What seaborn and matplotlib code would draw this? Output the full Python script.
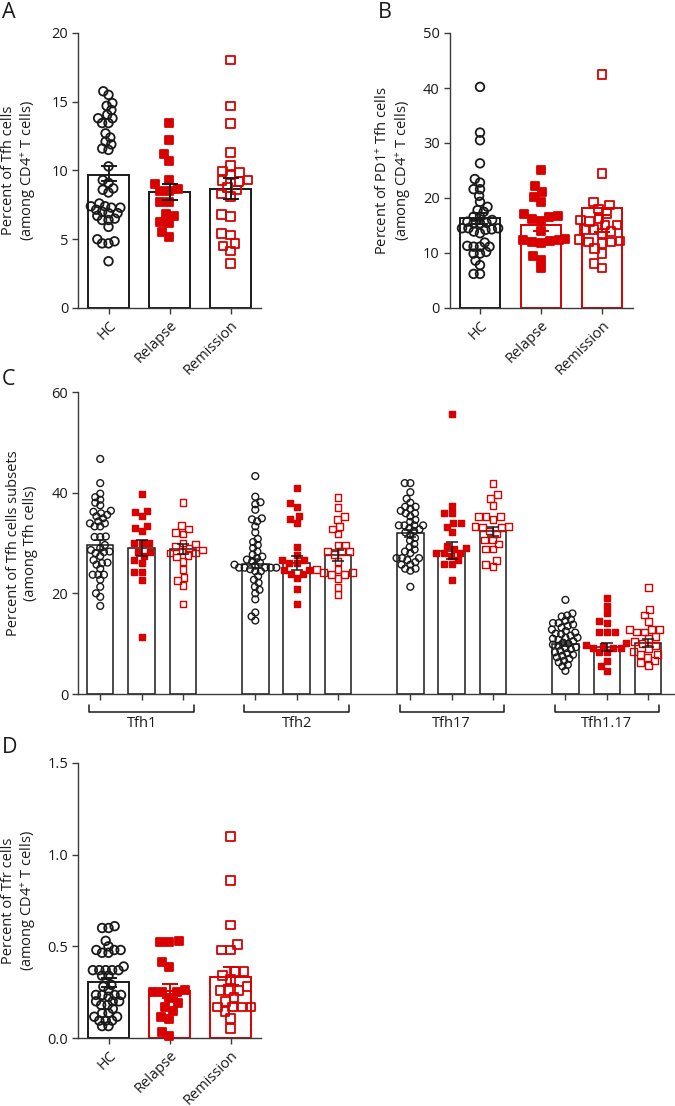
import numpy as np
import pandas as pd
import matplotlib
matplotlib.use("Agg")
import matplotlib.pyplot as plt
import matplotlib.transforms as mtransforms
import seaborn as sns

groups = ["HC", "Relapse", "Remission"]
subsets = ["Tfh1", "Tfh2", "Tfh17", "Tfh1.17"]

RED = "#d90000"
BLACK = "#1a1a1a"
AXIS = "#3a3a3a"

# ---- panel A: Tfh % of CD4+
a_hc = [15.76, 15.5, 14.9, 14.7, 14.4, 14.06, 13.8, 13.8, 13.45, 13.45, 12.7, 12.4, 12.1,
        11.9, 11.6, 11.5, 10.3, 9.3, 9.1, 8.7, 8.6, 8.4, 7.6, 7.4, 7.4, 7.3, 7.3, 7.15, 7.0,
        6.9, 6.9, 6.7, 6.5, 6.4, 6.4, 5.9, 5.0, 4.85, 4.7, 4.7, 3.4]
a_rel = [13.43, 12.2, 11.2, 10.69, 9.31, 9.02, 8.65, 8.53, 8.53, 7.73, 7.73, 6.84, 6.69,
         6.25, 6.16, 5.5, 5.19]
a_rem = [18.04, 14.7, 13.43, 11.32, 10.35, 9.96, 9.84, 9.67, 9.31, 9.26, 9.19, 8.78, 8.58,
         8.29, 8.1, 6.81, 6.64, 5.43, 5.31, 4.7, 4.51, 4.15, 3.25]
a_bar = [9.7, 8.45, 8.65]
a_mean = [9.75, 8.45, 8.7]
a_sem = [0.55, 0.58, 0.75]

# ---- panel B: PD1+ Tfh % of CD4+
b_hc = [40.2, 31.9, 30.5, 26.3, 23.45, 22.8, 21.6, 21.6, 20.4, 19.3, 18.4, 17.8, 17.5, 16.6,
        16.6, 16.0, 15.7, 15.5, 15.4, 15.4, 14.5, 14.5, 14.5, 14.3, 14.2, 13.9, 13.6, 11.9,
        11.3, 11.15, 11.15, 11.15, 10.2, 9.9, 9.9, 8.6, 7.8, 6.2, 6.2]
b_rel = [25.0, 22.1, 21.0, 20.2, 19.2, 17.0, 16.8, 16.5, 16.2, 15.8, 14.0, 12.5, 12.4, 12.3,
         12.2, 12.0, 11.8, 9.5, 8.8, 7.2]
b_rem = [42.4, 24.4, 19.3, 18.7, 18.0, 17.2, 16.3, 16.0, 15.1, 15.1, 15.7, 14.3, 14.3, 13.9,
         13.6, 12.2, 12.0, 12.4, 12.0, 11.7, 10.8, 9.9, 8.1, 7.3]
b_bar = [16.4, 15.1, 18.2]
b_mean = [16.35, 15.0, 15.4]
b_sem = [1.0, 1.0, 1.5]

# ---- panel C: Tfh subsets % of Tfh
c_tfh1_hc = [46.7, 41.9, 39.8, 39.1, 38.6, 38.0, 37.5, 36.4, 36.2, 35.9, 35.6, 35.3, 34.9,
             34.3, 33.9, 33.9, 33.3, 33.3, 31.3, 31.2, 31.2, 29.6, 29.0, 28.6, 28.3, 28.2,
             28.0, 27.4, 26.6, 26.1, 26.0, 25.7, 24.9, 23.7, 23.7, 23.7, 22.7, 21.3, 20.0,
             19.3, 17.5]
c_tfh1_rel = [39.7, 36.4, 36.2, 35.3, 33.3, 33.0, 32.3, 30.0, 30.0, 30.0, 28.3, 28.3, 27.4,
              26.6, 26.0, 24.3, 24.3, 22.7, 11.3]
c_tfh1_rem = [38.1, 33.5, 32.8, 32.1, 31.8, 30.0, 29.8, 29.3, 29.0, 28.6, 28.4, 28.0, 28.0,
              27.5, 27.2, 26.4, 24.8, 23.2, 22.5, 21.5, 17.9]
c_tfh2_hc = [43.3, 39.2, 38.1, 37.7, 36.6, 34.9, 34.7, 34.3, 33.3, 32.1, 30.8, 30.2, 29.6,
             29.0, 28.3, 27.7, 27.3, 27.0, 26.7, 26.4, 26.1, 25.7, 25.5, 25.1, 25.1, 25.1,
             25.1, 25.1, 24.8, 24.4, 24.4, 23.4, 22.7, 22.1, 21.3, 20.7, 20.0, 18.8, 16.2,
             15.4, 14.6]
c_tfh2_rel = [40.9, 38.0, 37.2, 35.3, 34.7, 33.9, 29.3, 27.7, 26.7, 26.6, 26.1, 26.1, 24.7,
              24.7, 23.9, 23.9, 23.0, 20.8, 17.8]
c_tfh2_rem = [39.1, 37.0, 35.3, 34.7, 33.3, 32.8, 31.8, 29.6, 29.6, 28.3, 28.3, 28.3, 27.7,
              26.4, 24.8, 24.8, 24.2, 24.2, 23.7, 23.7, 23.0, 21.2, 19.7]
c_tfh17_hc = [41.9, 41.9, 40.1, 38.8, 38.0, 37.2, 37.2, 36.8, 36.4, 35.9, 35.9, 35.3, 34.6,
              34.2, 33.5, 33.5, 33.5, 33.5, 33.0, 32.7, 32.4, 32.1, 31.6, 31.0, 30.5, 29.8,
              29.2, 28.7, 28.3, 28.0, 27.0, 27.0, 27.0, 26.6, 26.2, 25.7, 25.7, 24.9, 24.9,
              24.5, 21.3]
c_tfh17_rel = [55.6, 37.4, 35.9, 35.9, 33.9, 33.9, 33.2, 32.1, 29.5, 29.0, 28.9, 28.1, 28.1,
               28.1, 27.5, 26.7, 25.8, 25.8, 22.7]
c_tfh17_rem = [41.9, 39.6, 38.8, 37.4, 35.3, 35.3, 35.3, 34.7, 33.3, 33.3, 33.0, 33.0, 32.4,
               31.8, 30.6, 30.6, 29.8, 28.8, 28.8, 26.6, 25.7, 25.3]
c_tfh117_hc = [18.7, 16.0, 15.6, 15.4, 14.8, 14.6, 14.1, 14.1, 13.8, 13.5, 13.2, 12.8, 12.5,
               12.2, 12.0, 11.9, 11.6, 11.2, 11.2, 11.0, 10.8, 10.5, 10.2, 10.0, 9.8, 9.6,
               9.3, 9.1, 8.9, 8.6, 8.3, 8.1, 7.8, 7.6, 7.3, 7.0, 6.6, 6.3, 5.8, 5.5, 4.6]
c_tfh117_rel = [19.0, 17.5, 16.0, 14.6, 14.2, 12.4, 12.4, 12.4, 10.2, 9.8, 9.6, 9.1, 9.1,
                9.1, 8.3, 8.3, 6.6, 5.5, 4.6]
c_tfh117_rem = [21.2, 16.8, 15.7, 14.4, 12.8, 12.8, 12.8, 12.3, 12.3, 11.5, 11.0, 10.5,
                10.0, 9.6, 9.1, 8.5, 7.9, 7.9, 7.3, 6.6, 6.2, 5.7]
c_bar_hc = [29.6, 25.9, 31.9, 9.9]
c_bar_rel = [29.0, 26.1, 28.5, 9.3]
c_bar_rem = [28.8, 27.6, 32.3, 10.1]
c_sem_hc = [0.9, 0.9, 0.7, 0.45]
c_sem_rel = [1.6, 1.4, 1.7, 0.8]
c_sem_rem = [1.0, 1.1, 0.9, 0.8]

# ---- panel D: Tfr % of CD4+
d_hc = [0.61, 0.60, 0.60, 0.53, 0.50, 0.48, 0.48, 0.48, 0.465, 0.465, 0.39, 0.37, 0.37, 0.37,
        0.37, 0.37, 0.34, 0.34, 0.29, 0.28, 0.26, 0.235, 0.235, 0.235, 0.235, 0.225, 0.20,
        0.20, 0.20, 0.18, 0.18, 0.16, 0.135, 0.135, 0.116, 0.116, 0.095, 0.095, 0.095,
        0.065, 0.065]
d_rel = [0.53, 0.525, 0.525, 0.416, 0.39, 0.262, 0.25, 0.25, 0.25, 0.22, 0.19, 0.17, 0.15,
         0.116, 0.106, 0.035, 0.01]
d_rem = [1.098, 0.858, 0.616, 0.51, 0.48, 0.48, 0.362, 0.362, 0.34, 0.32, 0.28, 0.26, 0.26,
         0.26, 0.22, 0.20, 0.17, 0.17, 0.17, 0.17, 0.145, 0.107, 0.052]
d_bar = [0.304, 0.255, 0.335]
d_mean = [0.303, 0.257, 0.339]
d_sem = [0.023, 0.038, 0.05]

sns.set_style("ticks")
plt.rcParams["font.family"] = ["Open Sans", "DejaVu Sans"]
plt.rcParams["mathtext.fontset"] = "custom"
plt.rcParams["mathtext.rm"] = "Open Sans"
plt.rcParams["mathtext.default"] = "regular"

marker_style = {
    "HC": dict(marker="o", filled=False, color=BLACK),
    "Relapse": dict(marker="s", filled=True, color=RED),
    "Remission": dict(marker="s", filled=False, color=RED),
}
palette = {g: marker_style[g]["color"] for g in groups}

# swarms are laid out with a smaller marker, then drawn bigger so they
# overlap a bit like the Prism scatter in the original (HC has twice the n,
# so it gets packed tighter)
layout_scale = {"HC": 0.5, "Relapse": 0.8, "Remission": 0.8}
swarm_colls = []


def long_df(values, subset=None):
    rows = []
    for g, vals in zip(groups, values):
        for v in vals:
            rows.append({"group": g, "value": v, "subset": subset})
    return pd.DataFrame(rows)


def style_points(ax, n0, g, lw, show_size):
    st = marker_style[g]
    for coll in ax.collections[n0:]:
        if len(coll.get_offsets()) == 0:
            coll.set_visible(False)
            continue
        coll.set_facecolor(st["color"] if st["filled"] else "none")
        coll.set_edgecolor(st["color"])
        coll.set_linewidth(lw)
        coll.set_clip_on(False)
        coll.set_zorder(3)
        swarm_colls.append((coll, show_size))


def style_axis(ax, ylim, yticks, ylabel, label_x):
    sns.despine(ax=ax)
    for s in ["left", "bottom"]:
        ax.spines[s].set_color(AXIS)
        ax.spines[s].set_linewidth(1.0)
    ax.set_ylim(*ylim)
    ax.set_yticks(yticks)
    ax.tick_params(axis="both", direction="out", length=4, width=1.0, color=AXIS,
                   labelsize=10.5, labelcolor=BLACK, pad=3)
    ax.set_ylabel(ylabel, fontsize=10.5, color=BLACK, linespacing=1.15)
    # label_x is the right edge of the label block, in figure pixels
    x_ax = ax.transAxes.inverted().transform(fig.transFigure.transform((label_x / W, 0)))[0]
    ax.yaxis.set_label_coords(x_ax, 0.5)
    ax.set_xlabel("")


def simple_panel(rect, values, bars, means, sems, edge_colors, ylim, yticks, ylabel, label_x):
    ax = fig.add_axes(rect)
    sns.barplot(x=groups, y=bars, order=groups, color="white", width=0.66,
                errorbar=None, linewidth=1.4, edgecolor=BLACK, ax=ax, zorder=1)
    for patch, ec in zip(ax.patches, edge_colors):
        patch.set_edgecolor(ec)
        patch.set_facecolor("white")
    df = long_df(values)
    for g in groups:
        n0 = len(ax.collections)
        sns.swarmplot(data=df[df["group"] == g], x="group", y="value", order=groups,
                      marker=marker_style[g]["marker"], size=6.2 * layout_scale[g],
                      color=palette[g], warn_thresh=1, ax=ax)
        style_points(ax, n0, g, 1.3, 6.2)
    for i, (m, s, ec) in enumerate(zip(means, sems, edge_colors)):
        ax.errorbar(i, m, yerr=s, fmt="none", ecolor=ec, elinewidth=1.4, capsize=6,
                    capthick=1.4, zorder=5)
    ax.set_xlim(-0.5, 2.5)
    style_axis(ax, ylim, yticks, ylabel, label_x)
    ax.set_xticks(range(len(groups)))
    ax.set_xticklabels(groups, rotation=45, ha="right", va="top", rotation_mode="anchor")
    return ax


fig = plt.figure(figsize=(6.75, 11.06), dpi=100)
W, H = 675.0, 1106.0

simple_panel([78 / W, 1 - 308 / H, 183 / W, 275 / H], [a_hc, a_rel, a_rem], a_bar, a_mean,
             a_sem, [BLACK, BLACK, BLACK], (0, 20), [0, 5, 10, 15, 20],
             "Percent of Tfh cells\n(among CD4$^{+}$ T cells)", 38)
simple_panel([449.5 / W, 1 - 308 / H, 183 / W, 275 / H], [b_hc, b_rel, b_rem], b_bar, b_mean,
             b_sem, [BLACK, RED, RED], (0, 50), [0, 10, 20, 30, 40, 50],
             "Percent of PD1$^{+}$ Tfh cells\n(among CD4$^{+}$ T cells)", 413)
simple_panel([78 / W, 1 - 1038 / H, 183 / W, 275 / H], [d_hc, d_rel, d_rem], d_bar, d_mean,
             d_sem, [BLACK, RED, RED], (0, 1.5), [0.0, 0.5, 1.0, 1.5],
             "Percent of Tfr cells\n(among CD4$^{+}$ T cells)", 38)

# ---- panel C
axc = fig.add_axes([78 / W, 1 - 694 / H, 597 / W, 302 / H])
c_points = {
    "Tfh1": [c_tfh1_hc, c_tfh1_rel, c_tfh1_rem],
    "Tfh2": [c_tfh2_hc, c_tfh2_rel, c_tfh2_rem],
    "Tfh17": [c_tfh17_hc, c_tfh17_rel, c_tfh17_rem],
    "Tfh1.17": [c_tfh117_hc, c_tfh117_rel, c_tfh117_rem],
}
dfc = pd.concat([long_df(c_points[s], s) for s in subsets], ignore_index=True)
bars_c = pd.DataFrame({
    "subset": subsets * 3,
    "group": [g for g in groups for _ in subsets],
    "value": c_bar_hc + c_bar_rel + c_bar_rem,
    "sem": c_sem_hc + c_sem_rel + c_sem_rem,
})
sns.barplot(data=bars_c, x="subset", y="value", hue="group", order=subsets,
            hue_order=groups, palette={g: "white" for g in groups}, gap=0.36,
            errorbar=None, linewidth=1.1, edgecolor=BLACK, legend=False, ax=axc, zorder=1)
bar_pos = {}
for g, cont in zip(groups, axc.containers):
    for s, patch in zip(subsets, cont):
        patch.set_facecolor("white")
        bar_pos[(s, g)] = patch.get_x() + patch.get_width() / 2
for g in groups:
    n0 = len(axc.collections)
    sns.swarmplot(data=dfc[dfc["group"] == g], x="subset", y="value", hue="group",
                  order=subsets, hue_order=groups, dodge=True, palette=palette,
                  marker=marker_style[g]["marker"], size=4.9 * layout_scale[g] + 0.4,
                  legend=False, warn_thresh=1, ax=axc)
    style_points(axc, n0, g, 1.0, 4.9)
for _, r in bars_c.iterrows():
    axc.errorbar(bar_pos[(r["subset"], r["group"])], r["value"], yerr=r["sem"], fmt="none",
                 ecolor=BLACK, elinewidth=1.1, capsize=4, capthick=1.1, zorder=5)
axc.set_xlim(-0.41, 3.44)
style_axis(axc, (0, 60), [0, 20, 40, 60], "Percent of Tfh cells subsets\n(among Tfh cells)", 38)
axc.set_xticks(sorted(bar_pos.values()))
axc.set_xticklabels([])
trans = mtransforms.blended_transform_factory(axc.transData, axc.transAxes)
for s in subsets:
    x0 = bar_pos[(s, groups[0])] - 0.07
    x1 = bar_pos[(s, groups[-1])] + 0.07
    axc.plot([x0, x0, x1, x1], [-0.036, -0.058, -0.058, -0.036], color=BLACK, lw=1.1,
             transform=trans, clip_on=False)
    axc.text((x0 + x1) / 2, -0.074, s, transform=trans, ha="center", va="top",
             fontsize=10.5, color=BLACK)

# panel letters
for letter, x, y in [("A", 2, 2), ("B", 378, 2), ("C", 2, 369), ("D", 2, 737)]:
    fig.text(x / W, 1 - y / H, letter, fontsize=15.5, ha="left", va="top", color=BLACK)

# run the beeswarm layout once, freeze it, then grow the markers
fig.canvas.draw()
for coll, show_size in swarm_colls:
    if "draw" in coll.__dict__:
        del coll.draw
    coll.set_sizes([show_size ** 2])

fig.savefig("out.png", dpi=100)
